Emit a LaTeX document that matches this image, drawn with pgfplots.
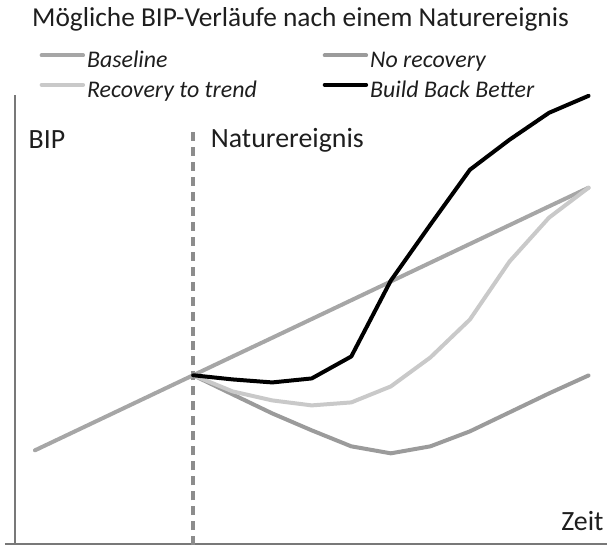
\documentclass[border=0pt]{standalone}
\usepackage{pgfplots}
\pgfplotsset{compat=1.18}
\usepackage{fontspec}
\setmainfont{Carlito}
\definecolor{cBase}{RGB}{166,166,166}
\definecolor{cNo}{RGB}{155,155,155}
\definecolor{cRec}{RGB}{201,201,201}
\definecolor{cAx}{RGB}{120,120,120}
\definecolor{cDash}{RGB}{140,140,140}
\definecolor{cTxt}{RGB}{30,30,30}
\begin{document}
\begin{tikzpicture}
\begin{axis}[
  scale only axis, width=608bp, height=546bp,
  xmin=0, xmax=608, ymin=0, ymax=546,
  hide axis, clip=false,
  legend columns=2,
  legend cell align=left,
  legend image code/.code={\draw[#1] (0bp,6.5bp) -- (41.5bp,6.5bp);},
  legend style={draw=none, fill=none, inner sep=0pt, outer sep=0pt,
    at={(axis cs:39.7,495)}, anchor=north west,
    font=\fontsize{24}{28}\selectfont\itshape\color{cTxt},
    nodes={inner xsep=2bp, inner ysep=0bp, text height=17bp, text depth=5bp},
    row sep=7.5bp,
    /tikz/every even column/.append style={column sep=64bp}},
]
\path (axis cs:0,0) rectangle (axis cs:608,546);
% axes
\draw[cAx, line width=1.8bp] (axis cs:15,1) -- (axis cs:15,451);
\draw[cAx, line width=1.8bp] (axis cs:5,1.5) -- (axis cs:608,1.5);
\draw[cDash, line width=3.5bp, dash pattern=on 9bp off 6bp] (axis cs:193.4,0) -- (axis cs:193.4,418);

\addplot[cBase, line width=4bp, line cap=round, line join=round] coordinates {
(35,95) (74.6,113.8) (114.2,132.6) (153.8,151.4) (193.4,170.2) (233,189) (272.6,207.7)
(312.2,226.5) (351.8,245.3) (391.4,264.1) (431,282.9) (470.6,301.7) (510.2,320.5) (549.8,339.3) (589.4,358)};
\addlegendentry{Baseline}
\addplot[cNo, line width=4bp, line cap=round, line join=round] coordinates {
(193.4,170.2) (233,151) (272.6,132) (312.2,115) (351.8,99) (391.4,92) (431,99)
(470.6,114) (510.2,133) (549.8,152) (589.4,170)};
\addlegendentry{No recovery}
\addplot[cRec, line width=4bp, line cap=round, line join=round] coordinates {
(193.4,170.2) (233,154) (272.6,145) (312.2,140) (351.8,143) (391.4,159) (431,188)
(470.6,226) (510.2,284) (549.8,328) (589.4,358)};
\addlegendentry{Recovery to trend}
\addplot[black, line width=4bp, line cap=round, line join=round] coordinates {
(193.4,170.2) (233,166) (272.6,163) (312.2,167) (351.8,189) (391.4,265) (431,321)
(470.6,376) (510.2,406) (549.8,433) (589.4,450)};
\addlegendentry{Build Back Better}

\node[anchor=base west, inner sep=0pt, text=cTxt, font=\fontsize{27.5}{32}\selectfont] at (axis cs:32,519.3) {Mögliche BIP-Verläufe nach einem Naturereignis};
\node[anchor=base west, inner sep=0pt, text=cTxt, font=\fontsize{28}{32}\selectfont] at (axis cs:28.5,397.7) {BIP};
\node[anchor=base west, inner sep=0pt, text=cTxt, font=\fontsize{28}{32}\selectfont] at (axis cs:211,398.3) {Naturereignis};
\node[anchor=base west, inner sep=0pt, text=cTxt, font=\fontsize{28}{32}\selectfont] at (axis cs:562,14.3) {Zeit};
\end{axis}
\end{tikzpicture}
\end{document}
